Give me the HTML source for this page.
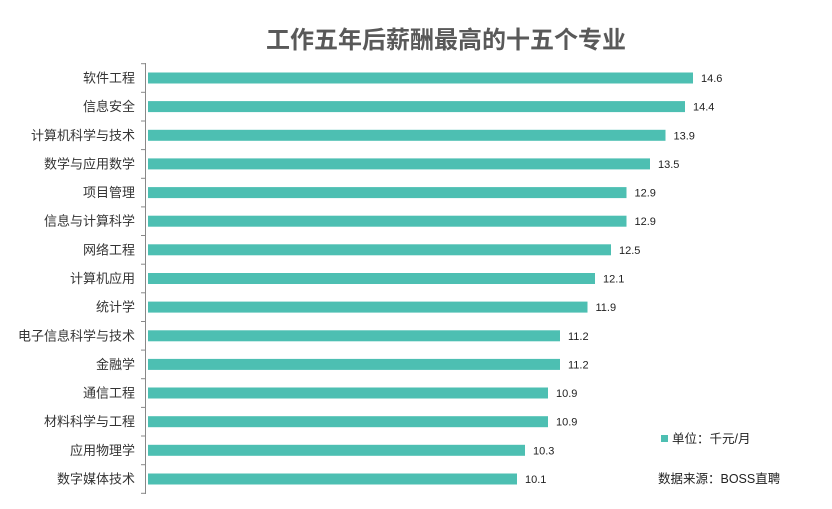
<!DOCTYPE html>
<html><head><meta charset="utf-8"><style>
body{margin:0;background:#fff;}
svg{display:block;font-family:"Liberation Sans","Noto Sans CJK SC",sans-serif;}
</style></head><body>
<svg width="832" height="509" viewBox="0 0 832 509">
<text x="446" y="48" text-anchor="middle" font-size="24" font-weight="bold" fill="#595959">工作五年后薪酬最高的十五个专业</text>
<line x1="145.5" y1="63" x2="145.5" y2="494" stroke="#888" stroke-width="1"/>
<g stroke="#888">
<line x1="141" x2="145" y1="63.7" y2="63.7"/><line x1="141" x2="145" y1="92.3" y2="92.3"/><line x1="141" x2="145" y1="121" y2="121"/><line x1="141" x2="145" y1="149.6" y2="149.6"/><line x1="141" x2="145" y1="178.3" y2="178.3"/><line x1="141" x2="145" y1="206.9" y2="206.9"/><line x1="141" x2="145" y1="235.5" y2="235.5"/><line x1="141" x2="145" y1="264.2" y2="264.2"/><line x1="141" x2="145" y1="292.8" y2="292.8"/><line x1="141" x2="145" y1="321.5" y2="321.5"/><line x1="141" x2="145" y1="350.1" y2="350.1"/><line x1="141" x2="145" y1="378.7" y2="378.7"/><line x1="141" x2="145" y1="407.4" y2="407.4"/><line x1="141" x2="145" y1="436" y2="436"/><line x1="141" x2="145" y1="464.7" y2="464.7"/><line x1="141" x2="145" y1="493.3" y2="493.3"/>
</g>
<g fill="#4dbfb2">
<rect x="148" y="72.5" width="545" height="11"/>
<rect x="148" y="101.1" width="537" height="11"/>
<rect x="148" y="129.8" width="517.5" height="11"/>
<rect x="148" y="158.4" width="502" height="11"/>
<rect x="148" y="187.1" width="478.5" height="11"/>
<rect x="148" y="215.7" width="478.5" height="11"/>
<rect x="148" y="244.3" width="463" height="11"/>
<rect x="148" y="273" width="447" height="11"/>
<rect x="148" y="301.6" width="439.5" height="11"/>
<rect x="148" y="330.3" width="412" height="11"/>
<rect x="148" y="358.9" width="412" height="11"/>
<rect x="148" y="387.5" width="400" height="11"/>
<rect x="148" y="416.2" width="400" height="11"/>
<rect x="148" y="444.8" width="377" height="11"/>
<rect x="148" y="473.5" width="369" height="11"/>
</g>
<g font-size="13" fill="#333" text-anchor="end">
<text x="135" y="82.5">软件工程</text>
<text x="135" y="111.1">信息安全</text>
<text x="135" y="139.8">计算机科学与技术</text>
<text x="135" y="168.4">数学与应用数学</text>
<text x="135" y="197.1">项目管理</text>
<text x="135" y="225.7">信息与计算科学</text>
<text x="135" y="254.3">网络工程</text>
<text x="135" y="283">计算机应用</text>
<text x="135" y="311.6">统计学</text>
<text x="135" y="340.3">电子信息科学与技术</text>
<text x="135" y="368.9">金融学</text>
<text x="135" y="397.5">通信工程</text>
<text x="135" y="426.2">材料科学与工程</text>
<text x="135" y="454.8">应用物理学</text>
<text x="135" y="483.5">数字媒体技术</text>
</g>
<g font-size="11" fill="#222">
<text x="701" y="82">14.6</text>
<text x="693" y="110.6">14.4</text>
<text x="673.5" y="139.3">13.9</text>
<text x="658" y="167.9">13.5</text>
<text x="634.5" y="196.6">12.9</text>
<text x="634.5" y="225.2">12.9</text>
<text x="619" y="253.8">12.5</text>
<text x="603" y="282.5">12.1</text>
<text x="595.5" y="311.1">11.9</text>
<text x="568" y="339.8">11.2</text>
<text x="568" y="368.4">11.2</text>
<text x="556" y="397">10.9</text>
<text x="556" y="425.7">10.9</text>
<text x="533" y="454.3">10.3</text>
<text x="525" y="483">10.1</text>
</g>
<rect x="661" y="435" width="7" height="7" fill="#4dbfb2"/>
<text x="672" y="443" font-size="12.5" fill="#222">单位：千元/月</text>
<text x="658" y="483" font-size="12.5" fill="#222">数据来源：BOSS直聘</text>
</svg>
</body></html>
